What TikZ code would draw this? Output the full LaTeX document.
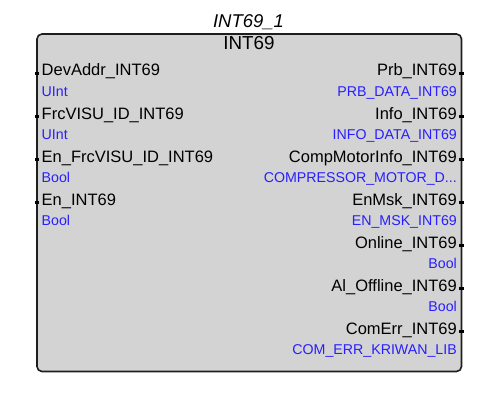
\documentclass[tikz,border=0pt]{standalone}
\usepackage{fontspec}
\setmainfont{Liberation Sans}
\definecolor{fbfill}{RGB}{211,211,211}
\definecolor{fbline}{RGB}{30,30,30}
\definecolor{typeblue}{RGB}{40,30,255}
% truncation mark for long type names
\newcommand\tdots{...}
\begin{document}
\begin{tikzpicture}[x=1pt,y=1pt,
  fblock/.style={draw=fbline,line width=1.6pt,fill=fbfill,rounded corners=5pt,
    minimum width=424.5pt,minimum height=337.5pt,inner sep=0pt},
  pinname/.style={inner sep=0pt,font=\fontsize{16.5}{18}\selectfont,text=black},
  pintype/.style={inner sep=0pt,font=\fontsize{14.2}{15}\selectfont,text=typeblue},
  pinmark/.style={fill=black,draw=none,minimum width=4.5pt,minimum height=3pt,inner sep=0pt},
  title/.style={inner sep=0pt,font=\fontsize{18.8}{20}\selectfont}]
\useasboundingbox (0,-409) rectangle (502,0);

% function block body
\node[fblock] (blk) at (249.25,-202.75) {};

% instance name and type
\node[title,anchor=base,font=\fontsize{18.5}{20}\selectfont\itshape] (inst) at (248.5,-28) {INT69\_1};
\node[title,anchor=base] (type) at (249,-50) {INT69};

% inputs
\foreach \n/\nm/\tp [count=\i from 0] in {
  in1/DevAddr\_INT69/UInt,
  in2/FrcVISU\_ID\_INT69/UInt,
  in3/En\_FrcVISU\_ID\_INT69/Bool,
  in4/En\_INT69/Bool}{
  \node[pinname,anchor=base west] (\n) at (41.5,-76-43*\i) {\nm};
  \node[pintype,anchor=base west] (\n t) at (41.5,-96-43*\i) {\tp};
  \node[pinmark] (\n p) at (37,-73.5-43*\i) {};
}

% outputs
\foreach \n/\nm/\tp [count=\i from 0] in {
  out1/Prb\_INT69/PRB\_DATA\_INT69,
  out2/Info\_INT69/INFO\_DATA\_INT69,
  out3/CompMotorInfo\_INT69/COMPRESSOR\_MOTOR\_D\tdots,
  out4/EnMsk\_INT69/EN\_MSK\_INT69,
  out5/Online\_INT69/Bool,
  out6/Al\_Offline\_INT69/Bool,
  out7/ComErr\_INT69/COM\_ERR\_KRIWAN\_LIB}{
  \node[pinname,anchor=base east] (\n) at (457,-76-43*\i) {\nm};
  \node[pintype,anchor=base east] (\n t) at (457,-96-43*\i) {\tp};
  \node[pinmark] (\n p) at (461.5,-73.5-43*\i) {};
}
\end{tikzpicture}
\end{document}
